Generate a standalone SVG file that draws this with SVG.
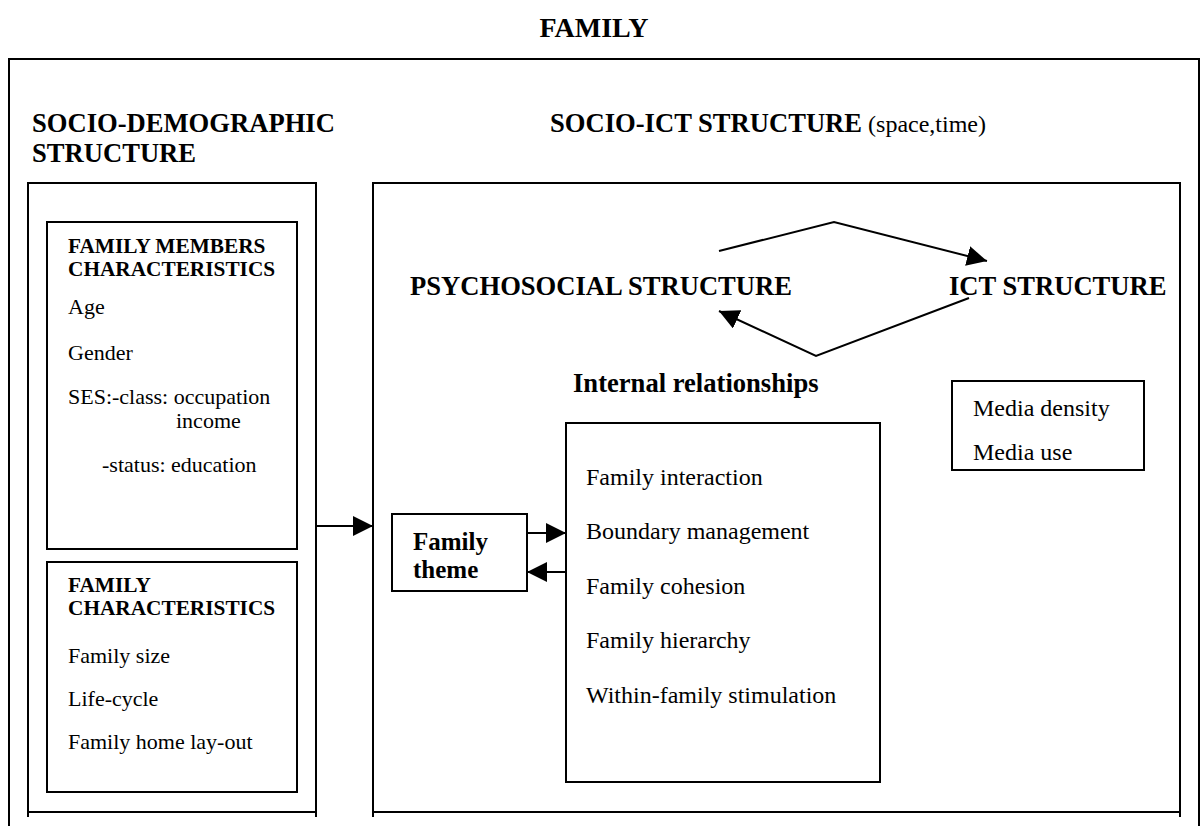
<svg xmlns="http://www.w3.org/2000/svg" width="1201" height="826" viewBox="0 0 1201 826">
  <style>
    .frame { fill: none; stroke: #000; stroke-width: 2; }
    .box { fill: #fff; stroke: #000; stroke-width: 2; }
    .link { fill: none; stroke: #000; stroke-width: 2; }
    text { font-family: "Liberation Serif", "Times New Roman", serif; fill: #000; }
    .h1 { font-size: 28px; font-weight: bold; }
    .h2 { font-size: 26.6px; font-weight: bold; }
    .h3 { font-size: 21.3px; font-weight: bold; }
    .small { font-size: 22px; }
    .body { font-size: 24px; }
    .theme { font-size: 25px; font-weight: bold; }
  </style>
  <defs>
    <marker id="head" viewBox="0 0 20 20" refX="20" refY="10" markerWidth="20" markerHeight="20" markerUnits="userSpaceOnUse" orient="auto">
      <path d="M0,0 L20,10 L0,20 z" fill="#000"/>
    </marker>
  </defs>

  <rect width="1201" height="826" fill="#fff"/>

  <!-- title -->
  <text class="h1" x="594" y="37" text-anchor="middle">FAMILY</text>

  <!-- outer family frame, open at the bottom -->
  <g id="family-frame">
    <path class="frame" d="M9,826 V59 H1199 V826"/>
    <text class="h2" x="32" y="132">SOCIO-DEMOGRAPHIC</text>
    <text class="h2" x="32" y="162">STRUCTURE</text>
    <text x="550" y="132"><tspan class="h2">SOCIO-ICT STRUCTURE</tspan><tspan font-size="24px"> (space,time)</tspan></text>
  </g>

  <!-- socio-demographic panel -->
  <g id="socio-demographic-panel">
    <path class="frame" d="M28,817 V183 H316 V817 M28,812 H316"/>
  </g>

  <g id="family-members">
    <rect class="box" x="47" y="222" width="250" height="327"/>
    <text class="h3" x="68" y="253">FAMILY MEMBERS</text>
    <text class="h3" x="68" y="276">CHARACTERISTICS</text>
    <text class="small" x="68" y="314">Age</text>
    <text class="small" x="68" y="360">Gender</text>
    <text class="small" x="68" y="404">SES:-class: occupation</text>
    <text class="small" x="176" y="428">income</text>
    <text class="small" x="102" y="472">-status: education</text>
  </g>

  <g id="family-characteristics">
    <rect class="box" x="47" y="562" width="250" height="230"/>
    <text class="h3" x="68" y="592">FAMILY</text>
    <text class="h3" x="68" y="615">CHARACTERISTICS</text>
    <text class="small" x="68" y="663">Family size</text>
    <text class="small" x="68" y="706">Life-cycle</text>
    <text class="small" x="68" y="749">Family home lay-out</text>
  </g>

  <!-- socio-ICT panel -->
  <g id="socio-ict-panel">
    <path class="frame" d="M373,817 V183 H1180 V817 M373,812 H1180"/>
  </g>

  <g id="psychosocial-structure">
    <text class="h2" x="410" y="295">PSYCHOSOCIAL STRUCTURE</text>
  </g>

  <g id="ict-structure">
    <text class="h2" x="949" y="295">ICT STRUCTURE</text>
  </g>

  <g id="internal-relationships-label">
    <text class="h2" x="573" y="392">Internal relationships</text>
  </g>

  <g id="internal-relationships">
    <rect class="box" x="566" y="423" width="314" height="359"/>
    <text class="body" x="586" y="485">Family interaction</text>
    <text class="body" x="586" y="539">Boundary management</text>
    <text class="body" x="586" y="594">Family cohesion</text>
    <text class="body" x="586" y="648">Family hierarchy</text>
    <text class="body" x="586" y="703">Within-family stimulation</text>
  </g>

  <g id="family-theme">
    <rect class="box" x="392" y="514" width="135" height="77"/>
    <text class="theme" x="413" y="550">Family</text>
    <text class="theme" x="413" y="578">theme</text>
  </g>

  <g id="media">
    <rect class="box" x="952" y="381" width="192" height="89"/>
    <text class="body" x="973" y="416">Media density</text>
    <text class="body" x="973" y="460">Media use</text>
  </g>

  <!-- connectors -->
  <g id="connectors">
    <polyline class="link" points="719,251 834,222 987,261" marker-end="url(#head)"/>
    <polyline class="link" points="969,298 816,356 719,311" marker-end="url(#head)"/>
    <line class="link" x1="316" y1="526" x2="373" y2="526" marker-end="url(#head)"/>
    <line class="link" x1="527" y1="533" x2="566" y2="533" marker-end="url(#head)"/>
    <line class="link" x1="566" y1="572" x2="527" y2="572" marker-end="url(#head)"/>
  </g>
</svg>
